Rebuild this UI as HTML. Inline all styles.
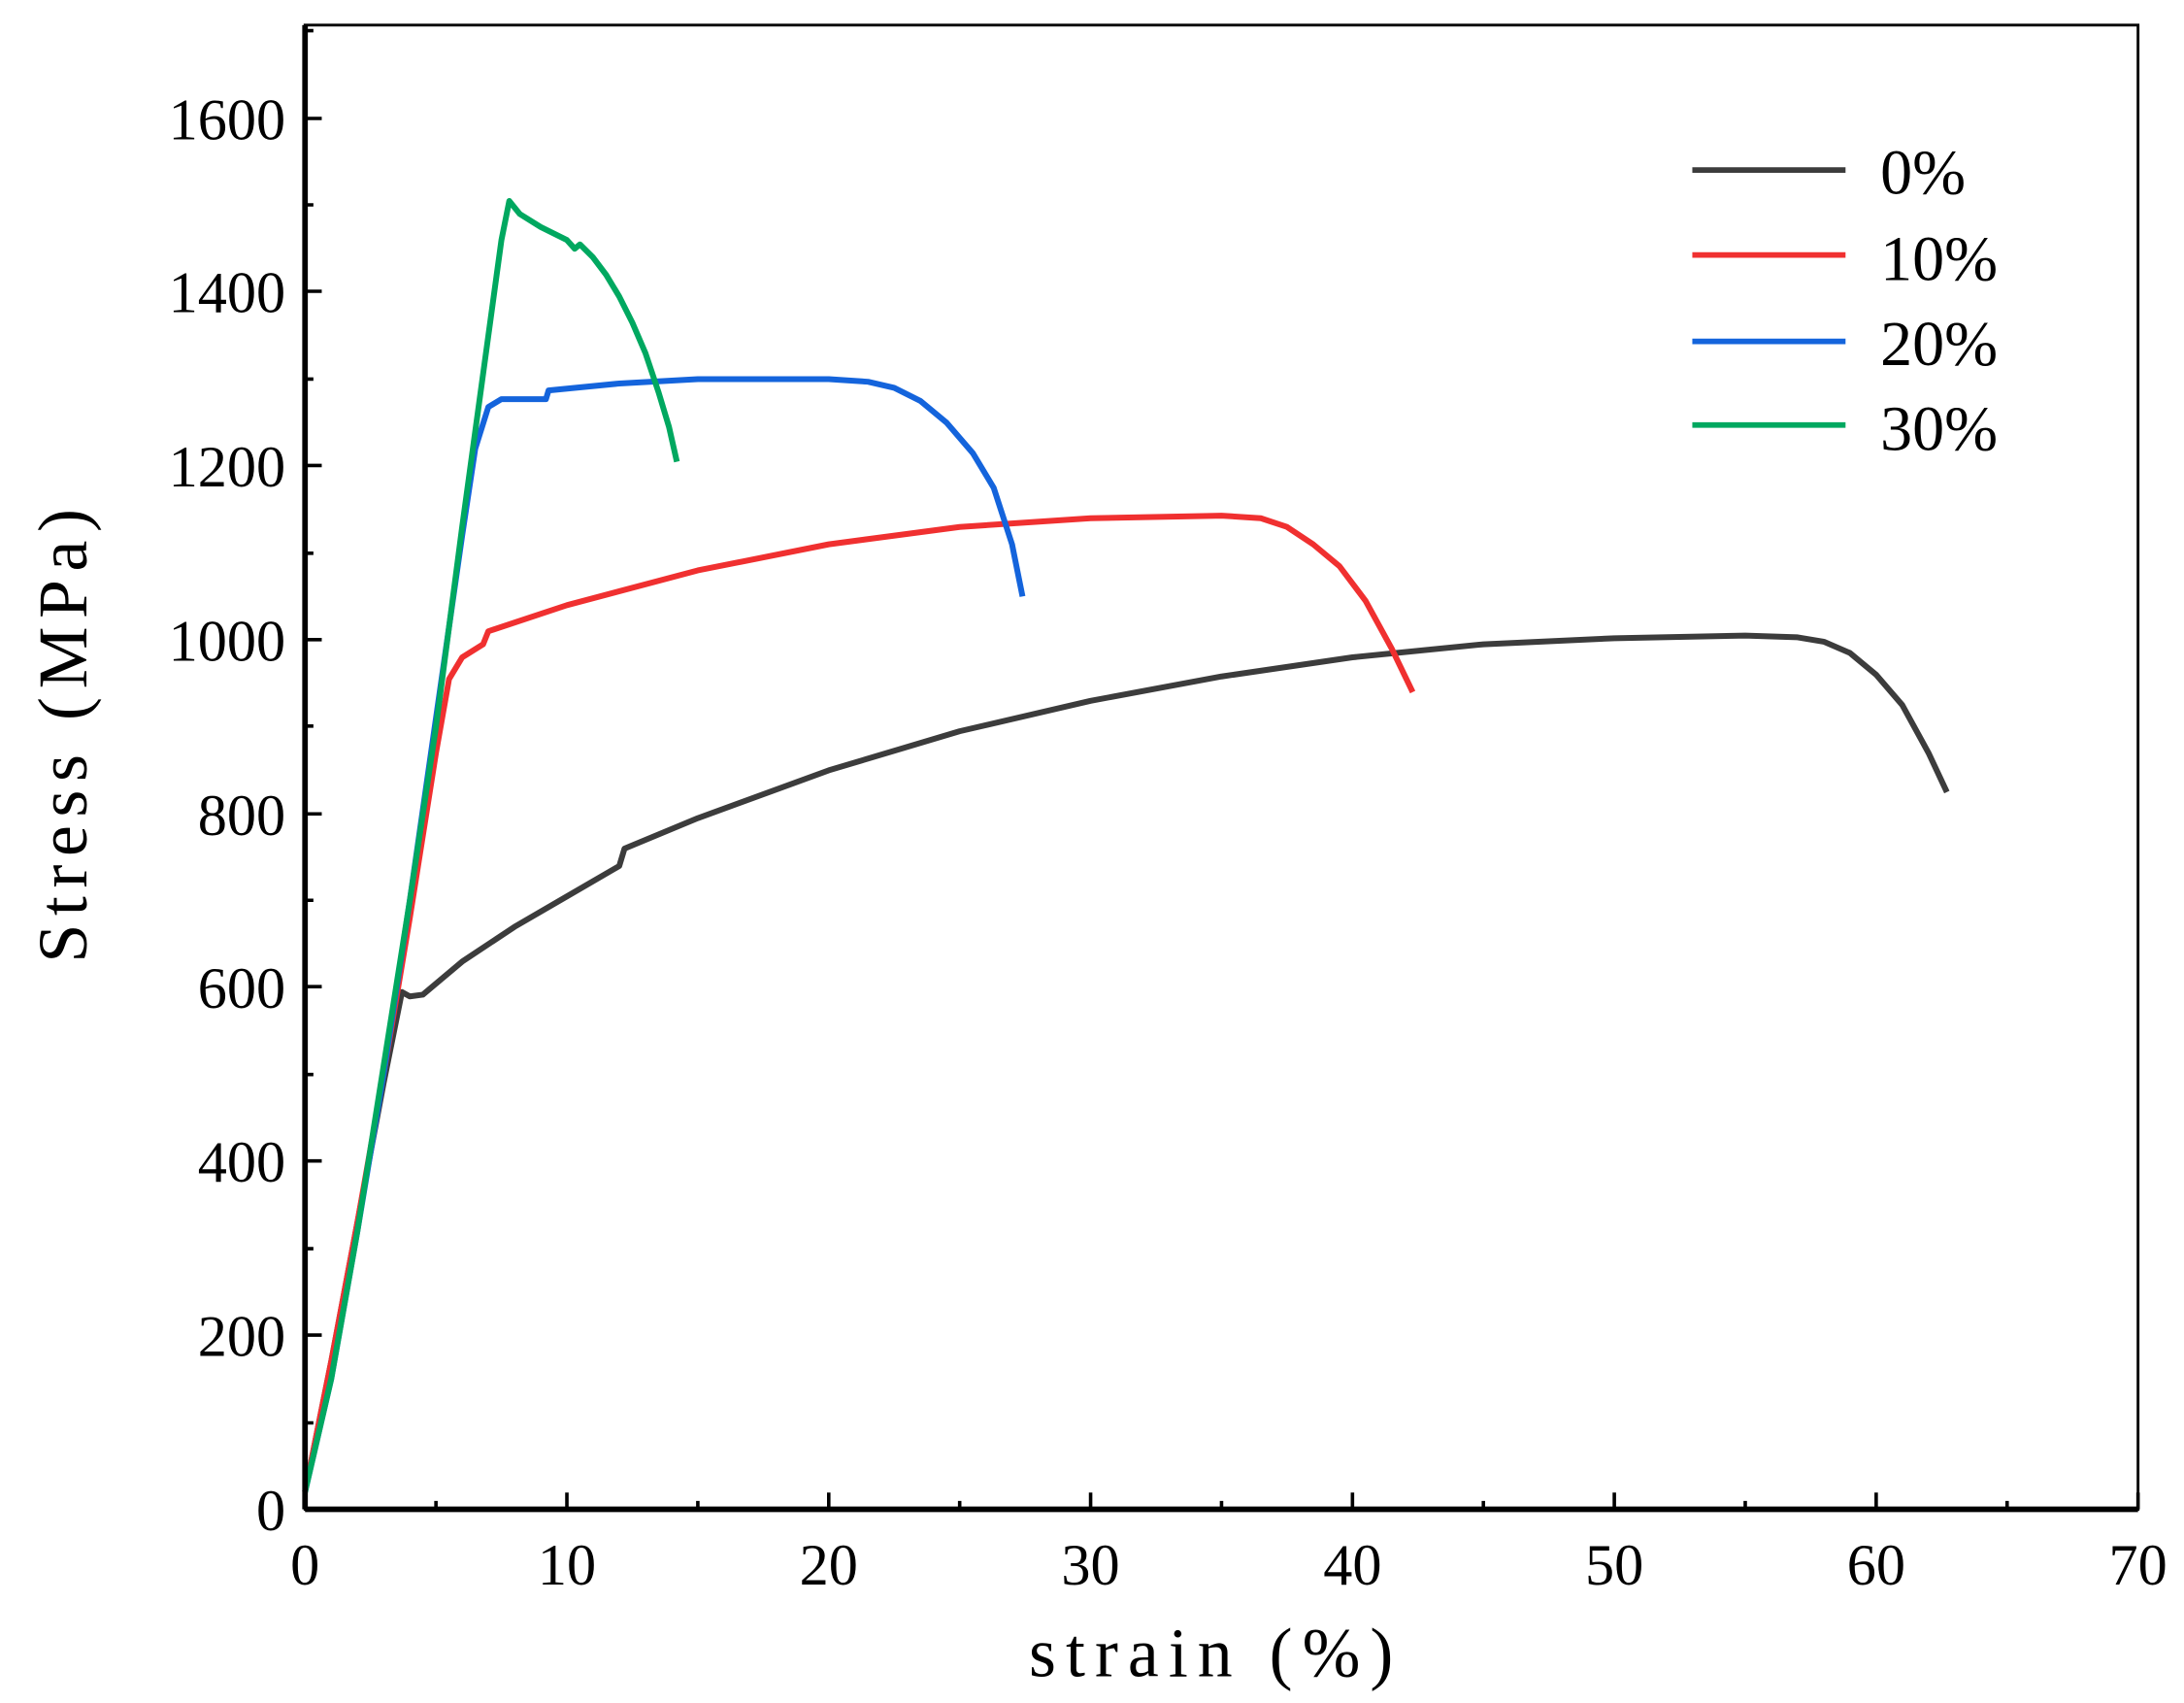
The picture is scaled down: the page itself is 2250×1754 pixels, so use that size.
<!DOCTYPE html>
<html><head><meta charset="utf-8"><style>html,body{margin:0;padding:0;background:#fff}svg{display:block}</style></head>
<body>
<svg width="2250" height="1754" viewBox="0 0 1568 1222" preserveAspectRatio="none" xmlns="http://www.w3.org/2000/svg" font-family="'Liberation Serif', serif">
<rect width="1568" height="1222" fill="#fff"/>
<g transform="translate(219,1083) scale(18.8,-0.6238)" fill="none" stroke-linejoin="round">
<polyline vector-effect="non-scaling-stroke" stroke="#3c3c3c" stroke-width="6" fill="none" points="0,20 1,170 2,330 3,490 3.7,595 4,590 4.5,592 6,630 8,670 10,705 12,740 12.2,760 15,795 20,850 25,895 30,930 35,958 40,980 45,995 50,1002 55,1005 57,1003 58,998 59,985 60,960 61,925 62,870 62.7,825"/>
<polyline vector-effect="non-scaling-stroke" stroke="#f03030" stroke-width="6" fill="none" points="0,20 1,170 2,330 3,500 4,680 5,870 5.5,955 6,980 6.8,995 7,1010 10,1040 15,1080 20,1110 25,1130 30,1140 35,1143 36.5,1140 37.5,1130 38.5,1110 39.5,1085 40.5,1045 41.5,990 42.3,940"/>
<polyline vector-effect="non-scaling-stroke" stroke="#1464dc" stroke-width="6" fill="none" points="0,20 1,150 2,320 3,500 4,700 5,910 6,1120 6.5,1220 7,1268 7.5,1277 9.2,1277 9.3,1287 12,1295 15,1300 20,1300 21.5,1297 22.5,1290 23.5,1275 24.5,1250 25.5,1215 26.3,1175 27,1110 27.4,1050"/>
<polyline vector-effect="non-scaling-stroke" stroke="#00a860" stroke-width="6" fill="none" points="0,20 1,150 2,320 3,510 4,700 5,900 6,1130 7,1350 7.5,1460 7.8,1505 8.2,1490 9,1475 10,1460 10.3,1450 10.5,1455 11,1440 11.5,1420 12,1395 12.5,1365 13,1330 13.5,1285 13.9,1245 14.2,1205"/>
</g>
<rect x="219" y="18" width="1316" height="1065" fill="none" stroke="#000" stroke-width="2"/>
<line x1="219" y1="1083" x2="1535" y2="1083" stroke="#000" stroke-width="4"/>
<line x1="219" y1="18" x2="219" y2="1083" stroke="#000" stroke-width="4"/>
<g stroke="#000" stroke-width="2.5">
<path d="M219,1083v-12M407,1083v-12M595,1083v-12M783,1083v-12M971,1083v-12M1159,1083v-12M1347,1083v-12M1535,1083v-12"/>
<path d="M313,1083v-6M501,1083v-6M689,1083v-6M877,1083v-6M1065,1083v-6M1253,1083v-6M1441,1083v-6"/>
<path d="M219,1083h12M219,958h12M219,833h12M219,708h12M219,584h12M219,459h12M219,334h12M219,209h12M219,85h12"/>
<path d="M219,1021h6M219,896h6M219,771h6M219,646h6M219,521h6M219,397h6M219,272h6M219,147h6M219,22h6"/>
</g>
<g font-size="42" fill="#000" text-anchor="end">
<text x="205" y="1098">0</text><text x="205" y="973">200</text><text x="205" y="848">400</text><text x="205" y="723">600</text><text x="205" y="599">800</text><text x="205" y="474">1000</text><text x="205" y="349">1200</text><text x="205" y="224">1400</text><text x="205" y="100">1600</text>
</g>
<g font-size="42" fill="#000" text-anchor="middle">
<text x="219" y="1137">0</text><text x="407" y="1137">10</text><text x="595" y="1137">20</text><text x="783" y="1137">30</text><text x="971" y="1137">40</text><text x="1159" y="1137">50</text><text x="1347" y="1137">60</text><text x="1535" y="1137">70</text>
</g>
<text x="873" y="1203" font-size="50" text-anchor="middle" letter-spacing="7">strain (%)</text>
<text transform="translate(62,525) rotate(-90)" font-size="50" text-anchor="middle" letter-spacing="6">Stress (MPa)</text>
<g stroke-width="4">
<line x1="1215" y1="122" x2="1325" y2="122" stroke="#3c3c3c"/>
<line x1="1215" y1="183" x2="1325" y2="183" stroke="#f03030"/>
<line x1="1215" y1="245" x2="1325" y2="245" stroke="#1464dc"/>
<line x1="1215" y1="305" x2="1325" y2="305" stroke="#00a860"/>
</g>
<g font-size="46" fill="#000">
<text x="1350" y="139">0%</text><text x="1350" y="201">10%</text><text x="1350" y="262">20%</text><text x="1350" y="323">30%</text>
</g>
</svg>
</body></html>
